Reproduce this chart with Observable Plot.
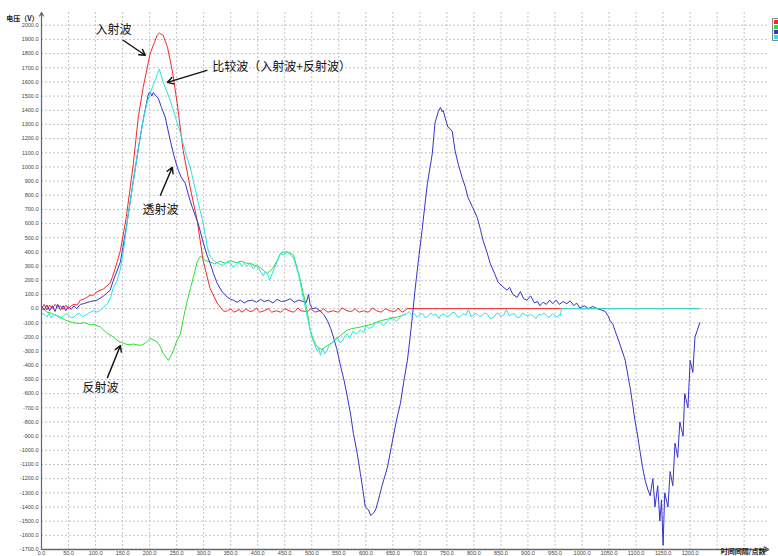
<!DOCTYPE html>
<html><head><meta charset="utf-8">
<script src="https://cdn.jsdelivr.net/npm/d3@7"></script>
<script src="https://cdn.jsdelivr.net/npm/@observablehq/plot@0.6"></script>
<style>
body{margin:0;background:#fff;}
#wrap{position:relative;width:778px;height:556px;overflow:hidden;}
#legend{position:absolute;left:772px;top:18px;width:8px;border:1px solid #888;background:#fff;padding-bottom:1px;}
#legend div{height:4px;margin:1px 0 0 1px;width:7px;}
</style></head><body><div id="wrap"><div id="chart"></div><div id="legend"></div></div>
<script>
// ---- data (x = 时间间隔/点数, y = 电压 V) ----
const incident = [[0,0],[5,30],[10,-10],[15,25],[20,0],[25,30],[30,10],[35,20],[40,-5],[45,25],[50,0],[55,20],[60,30],[66,25],[72,60],[80,70],[90,95],[96,95],[103,120],[115,140],[127,180],[131,220],[140,330],[146,410],[157,650],[170,1025],[179,1350],[188,1560],[201,1800],[209,1880],[214,1930],[218,1945],[222,1935],[225,1930],[233,1845],[242,1680],[251,1450],[262,1117],[275,855],[288,623],[299,340],[312,140],[325,40],[336,-15],
[340,-20],[344,-15],[350,0],[353,-15],[356,-25],[362,-15],[366,-5],[370,-25],[375,-15],[378,0],[385,-20],[392,-15],[398,5],[401,-15],[404,-25],[412,-15],[420,0],[423,-15],[426,-25],[435,-15],[442,-25],[446,-15],[450,0],[458,-15],[466,-25],[470,-15],[474,5],[480,-15],[490,-20],[494,-15],[498,0],[506,-25],[514,-15],[518,-15],[522,0],[526,-15],[530,-25],[540,-15],[548,-25],[552,-15],[556,5],[565,-15],[572,-20],[576,-15],[580,0],[584,-15],[588,-25],[596,-15],[604,-25],[608,-15],[612,5],[620,-15],[628,-25],[632,-15],[636,0],[644,-15],[652,-20],[656,-15],[660,5],[664,-15],[668,-25],[674,-10],[676,0],[1218,0]];

const reflected = [[0,-10],[4,0],[10,-25],[17,-30],[25,-45],[33,-55],[41,-75],[50,-90],[59,-100],[70,-105],[80,-100],[90,-115],[96,-110],[109,-130],[120,-170],[133,-200],[142,-230],[152,-245],[160,-255],[170,-250],[183,-260],[192,-245],[201,-210],[207,-220],[214,-235],[220,-270],[225,-315],[230,-340],[235,-365],[240,-330],[244,-295],[250,-230],[257,-180],[263,-60],[270,60],[276,150],[281,220],[288,330],[294,370],[303,340],[312,330],[320,315],[330,335],[340,320],[349,340],[360,325],[370,335],[380,320],[386,320],[395,305],[405,290],[412,265],[418,250],[424,270],[429,290],[436,340],[442,390],[448,400],[455,400],[460,390],[466,380],[472,300],[479,200],[484,110],[488,50],[493,-50],[497,-150],[503,-220],[510,-270],[519,-290],[525,-270],[529,-260],[538,-240],[547,-210],[556,-180],[566,-150],[576,-140],[590,-130],[600,-120],[612,-110],[627,-85],[640,-75],[650,-65],[658,-60],[666,-50],[673,-40]];

const transmitted = [[0,20],[5,-10],[10,25],[15,-15],[20,20],[25,-20],[30,30],[35,-10],[40,20],[45,-15],[50,15],[55,-5],[60,20],[65,0],[72,30],[78,35],[90,50],[103,60],[115,90],[127,130],[133,200],[146,330],[158,600],[170,905],[180,1150],[188,1330],[198,1520],[201,1530],[204,1500],[207,1525],[212,1500],[216,1485],[222,1420],[229,1350],[238,1190],[245,1080],[251,1000],[258,930],[266,885],[272,800],[279,715],[285,650],[290,600],[299,470],[306,380],[312,320],[318,250],[325,180],[334,120],[344,80],[350,65],[355,60],[362,45],[368,60],[375,40],[382,55],[390,60],[398,45],[405,65],[412,50],[420,60],[428,40],[436,65],[444,50],[452,55],[460,70],[468,45],[476,60],[484,50],[490,45],[494,100],[497,30],[501,0],[508,5],[516,-20],[522,-40],[529,-85],[535,-140],[540,-200],[546,-280],[553,-400],[560,-510],[566,-625],[572,-750],[577,-880],[584,-1020],[590,-1165],[595,-1290],[599,-1400],[605,-1420],[609,-1460],[612,-1450],[615,-1440],[619,-1410],[623,-1355],[630,-1250],[640,-1120],[647,-980],[654,-840],[659,-750],[664,-670],[670,-520],[677,-365],[682,-200],[686,-60],[691,130],[697,330],[704,550],[709,720],[714,885],[719,1000],[723,1095],[728,1310],[734,1390],[738,1420],[741,1390],[743,1400],[748,1330],[752,1280],[756,1270],[760,1250],[765,1117],[771,1020],[778,927],[784,860],[789,785],[797,720],[806,645],[812,560],[817,480],[824,400],[830,320],[838,250],[845,185],[852,160],[861,130],[866,150],[872,100],[880,80],[886,120],[892,70],[898,60],[905,90],[912,40],[918,50],[922,20],[928,45],[934,30],[940,60],[946,35],[952,60],[958,30],[965,50],[972,35],[978,55],[985,20],[990,40],[996,5],[1004,20],[1012,0],[1020,15],[1028,0],[1036,-10],[1043,-20],[1048,-50],[1052,-85],[1057,-110],[1061,-155],[1070,-250],[1080,-365],[1090,-580],[1098,-790],[1103,-900],[1107,-1000],[1112,-1120],[1117,-1215],[1122,-1280],[1126,-1320],[1131,-1200],[1135,-1400],[1140,-1250],[1144,-1500],[1147,-1350],[1150,-1670],[1153,-1300],[1159,-1400],[1163,-1150],[1168,-1250],[1172,-950],[1177,-1050],[1181,-800],[1187,-900],[1190,-600],[1196,-700],[1200,-365],[1205,-450],[1209,-200],[1213,-155],[1218,-100]];

const comparison = [[0,-30],[5,-40],[10,-60],[14,-30],[17,-65],[22,-45],[25,-40],[30,-55],[35,-70],[41,-50],[46,-35],[50,-45],[55,-65],[60,-60],[65,-40],[70,-35],[75,-55],[80,-50],[88,-30],[96,-15],[103,-25],[109,-10],[115,10],[122,35],[128,80],[133,150],[140,200],[146,280],[152,420],[160,650],[170,900],[180,1150],[188,1330],[195,1450],[201,1520],[207,1580],[214,1650],[218,1690],[222,1640],[225,1600],[231,1540],[238,1470],[244,1400],[251,1310],[257,1240],[262,1165],[268,1080],[275,1000],[281,900],[288,785],[293,700],[298,623],[303,520],[307,430],[312,370],[318,340],[326,320],[336,305],[343,330],[350,320],[355,290],[360,310],[366,330],[370,300],[375,320],[380,300],[386,320],[392,280],[398,310],[404,270],[410,230],[414,260],[418,250],[422,200],[426,240],[430,280],[436,330],[442,390],[448,380],[455,400],[460,380],[466,360],[471,300],[475,250],[480,160],[484,80],[488,10],[492,-60],[496,-130],[500,-200],[505,-250],[510,-300],[513,-280],[516,-330],[520,-280],[524,-320],[528,-300],[532,-260],[535,-250],[540,-230],[547,-200],[552,-240],[556,-230],[562,-190],[566,-180],[570,-210],[576,-160],[583,-180],[590,-150],[596,-170],[600,-120],[606,-140],[612,-130],[618,-100],[627,-100],[633,-120],[640,-90],[645,-60],[650,-70],[657,-90],[664,-60],[670,-40],[675,-40],[680,-20],[685,-50],[690,-35],[695,-60],[700,-40],[705,-35],[710,-65],[715,-55],[720,-30],[725,-45],[730,-40],[735,-70],[740,-40],[745,-40],[750,-55],[755,-50],[760,-25],[765,-30],[770,-60],[775,-55],[780,-35],[785,-45],[790,-5],[795,-60],[800,-40],[805,-35],[810,-55],[815,-50],[820,-30],[825,-40],[830,-70],[835,-65],[840,-40],[845,-30],[850,-55],[855,-45],[860,-5],[865,-50],[870,-40],[875,-35],[880,-65],[885,-60],[890,-30],[895,-45],[900,-50],[905,-40],[910,-55],[915,-70],[920,-40],[925,-45],[930,-30],[935,-55],[940,-60],[945,-35],[950,-50],[955,-60],[958,-40],[960,-50],[962,0],[1218,0]];

const seriesNames = ["入射波", "反射波", "透射波", "比较波"];
const seriesColors = ["#f02828", "#2ee02e", "#3434cc", "#28e4e4"];
const xTickValues = d3.range(0, 1201, 50);
const xGridValues = d3.range(0, 1301, 50);
const yTickValues = d3.range(-1700, 2001, 100);
const yLabel = "电压（V）";
const xLabel = "时间间隔/点数";

// annotations: [text, x, y]
const notesCentered = [["入射波", 133, 1965], ["透射波", 220, 693], ["反射波", 109, -563]];
const notesLeft = [["比较波（入射波+反射波）", 316, 1703]];
const pointers = [[151, 1894, 192, 1788], [306, 1682, 233, 1597], [220, 800, 242, 997], [122, -487, 146, -261]];

// ---- build ----
const rows = (arr, s) => arr.map(([x, y]) => ({x, y, s}));
const allSeries = [incident, reflected, transmitted, comparison];

const cjk = "'Noto Sans CJK SC', sans-serif";
const chart = Plot.plot({
  width: 778, height: 556,
  marginLeft: 41, marginRight: 10, marginTop: 12, marginBottom: 7,
  x: {domain: [0, 1345]},
  y: {domain: [-1700, 2090]},
  style: {fontFamily: "'Liberation Sans', Arial, sans-serif", background: "#fff", color: "#333"},
  marks: [
    Plot.ruleX(xGridValues, {stroke: "#c4c4c4", strokeDasharray: "2,2", strokeWidth: 1}),
    Plot.ruleY(yTickValues, {stroke: "#c4c4c4", strokeDasharray: "2,2", strokeWidth: 1}),
    ...allSeries.map((arr, i) => Plot.line(rows(arr, seriesNames[i]), {x: "x", y: "y", stroke: seriesColors[i], strokeWidth: 1})),
    Plot.axisY(yTickValues, {tickSize: 0, tickPadding: 3, tickFormat: d => d.toFixed(1), fontSize: 5.5, label: null, fill: "#444"}),
    Plot.axisX(xTickValues, {tickSize: 0, tickPadding: 2, tickFormat: d => d.toFixed(1), fontSize: 5.5, label: null, fill: "#444"}),
    Plot.arrow([{x1: 0, y1: -1700, x2: 0, y2: 2090}], {x1: "x1", y1: "y1", x2: "x2", y2: "y2", stroke: "#666", strokeWidth: 1.2, headLength: 5}),
    Plot.arrow([{x1: 0, y1: -1700, x2: 1345, y2: -1700}], {x1: "x1", y1: "y1", x2: "x2", y2: "y2", stroke: "#666", strokeWidth: 1.5, headLength: 5}),
    Plot.text([yLabel], {frameAnchor: "top-left", dx: -3, dy: 4, textAnchor: "end", fontSize: 7, fontWeight: "bold", fontFamily: cjk, fill: "#222"}),
    Plot.text([xLabel], {frameAnchor: "bottom-right", dx: -3, dy: 4, textAnchor: "end", fontSize: 7, fontWeight: "bold", fontFamily: cjk, fill: "#222"}),
    Plot.arrow(pointers, {x1: d => d[0], y1: d => d[1], x2: d => d[2], y2: d => d[3], stroke: "#111", strokeWidth: 1.4, headLength: 7}),
    Plot.text(notesCentered, {x: d => d[1], y: d => d[2], text: d => d[0], textAnchor: "middle", fontSize: 12, fontFamily: cjk, fill: "#111"}),
    Plot.text(notesLeft, {x: d => d[1], y: d => d[2], text: d => d[0], textAnchor: "start", fontSize: 12, fontFamily: cjk, fill: "#111"})
  ]
});
document.getElementById("chart").appendChild(chart);

const leg = document.getElementById("legend");
seriesColors.forEach(c => { const d = document.createElement("div"); d.style.background = c; leg.appendChild(d); });
</script>
</body></html>
